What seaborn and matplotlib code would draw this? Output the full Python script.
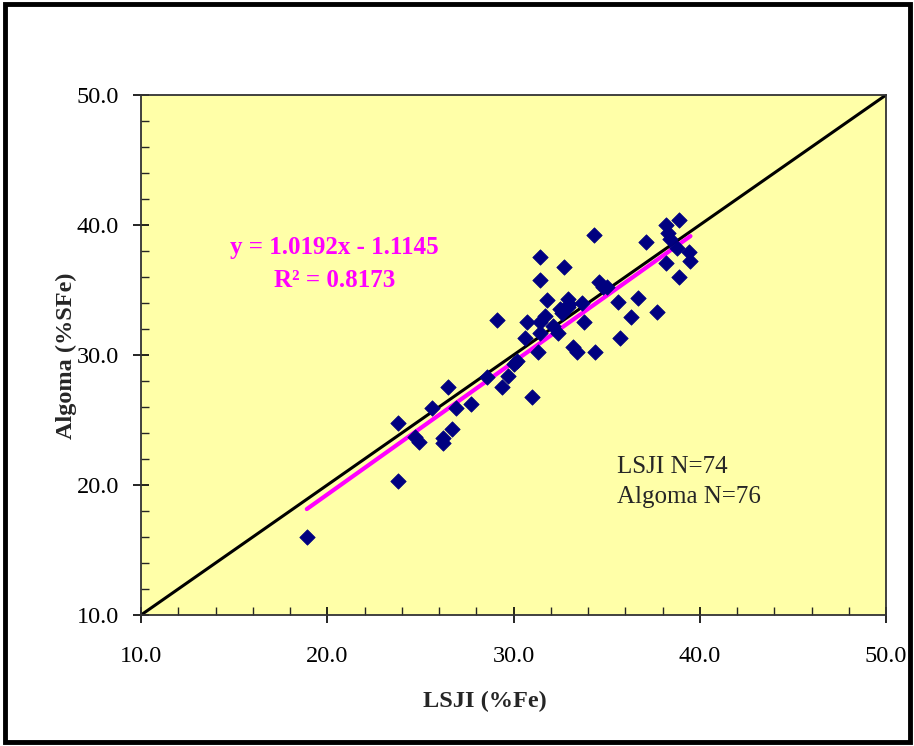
import pandas as pd
import seaborn as sns
import matplotlib.pyplot as plt
from matplotlib.patches import Rectangle
from matplotlib.ticker import MultipleLocator, FormatStrFormatter

# === DANE ===
lsji = [18.9, 23.8, 23.8, 24.7, 24.9, 25.6, 26.2, 26.2, 26.5, 26.7,
        26.9, 27.7, 29.1, 29.4, 29.7, 30.2, 30.7, 31.0, 31.3, 31.4,
        31.4, 31.4, 31.4, 31.8, 32.4, 32.5, 32.7, 32.9, 32.9, 33.2,
        33.4, 33.7, 33.8, 34.3, 34.4, 34.6, 34.8, 35.0, 35.6, 35.7,
        36.3, 36.7, 37.1, 37.7, 38.2, 38.3, 38.4, 38.2, 38.8, 38.9,
        38.9, 39.4, 39.5, 30.0, 28.6, 31.7, 32.1, 32.6, 30.6, 33.0]
algoma = [16.0, 20.3, 24.8, 23.7, 23.3, 25.9, 23.6, 23.2, 27.5, 24.3,
          25.9, 26.2, 32.7, 27.5, 28.4, 29.5, 32.5, 26.8, 30.2, 32.5,
          31.7, 37.5, 35.8, 34.2, 31.7, 33.5, 36.8, 34.3, 33.7, 30.6,
          30.2, 34.0, 32.5, 39.2, 30.2, 35.6, 35.2, 35.2, 34.1, 31.3,
          32.9, 34.4, 38.7, 33.3, 40.0, 39.4, 38.9, 37.1, 38.2, 40.4,
          36.0, 37.9, 37.2, 29.3, 28.3, 33.0, 32.2, 33.2, 31.3, 33.9]

SLOPE = 1.0192
INTERCEPT = -1.1145
R2 = 0.8173
AXIS_RANGE = [10.0, 50.0]

# === WYKRES ===
sns.set_style("ticks")
plt.rcParams['font.family'] = ['Liberation Serif', 'DejaVu Serif']

fig = plt.figure(figsize=(9.14, 7.46), dpi=100)
ax = fig.add_axes([0.1543, 0.1756, 0.8151, 0.6971])
ax.set_facecolor("#FFFFA8")

df = pd.DataFrame({"LSJI": lsji, "Algoma": algoma})

# linia 1:1
sns.lineplot(x=AXIS_RANGE, y=AXIS_RANGE, ax=ax, color="black", linewidth=2.2, zorder=2)

# linia trendu
x_fit = [min(lsji), max(lsji)]
y_fit = [SLOPE * v + INTERCEPT for v in x_fit]
sns.lineplot(x=x_fit, y=y_fit, ax=ax, color="#FF00FF", linewidth=3, zorder=3)

sns.scatterplot(data=df, x="LSJI", y="Algoma", ax=ax, marker="D", s=62,
                color="#000080", edgecolor="#000080", linewidth=0.5, zorder=4)

ax.set_xlim(AXIS_RANGE)
ax.set_ylim(AXIS_RANGE)
for a in (ax.xaxis, ax.yaxis):
    a.set_major_locator(MultipleLocator(10))
    a.set_minor_locator(MultipleLocator(2))
    a.set_major_formatter(FormatStrFormatter("%.1f"))
ax.tick_params(which="major", direction="inout", length=12, width=1.2, labelsize=17.5, colors="black")
ax.tick_params(which="minor", direction="in", length=6, width=1.0)
ax.tick_params(axis="x", which="major", pad=16)
ax.tick_params(axis="y", which="major", pad=10)
for sp in ax.spines.values():
    sp.set_color("#333333")
    sp.set_linewidth(1.3)

ax.set_xlabel("")
ax.set_ylabel("")
fig.text(485 / 914, 1 - 701 / 746, "LSJI (%Fe)", ha="center", va="center",
         fontsize=17.5, fontweight="bold")
fig.text(66 / 914, 1 - 356 / 746, "Algoma (%SFe)", ha="center", va="center",
         rotation=90, fontsize=17.5, fontweight="bold")

ax.text(20.4, 38.3, f"y = {SLOPE}x - {abs(INTERCEPT)}", color="#FF00FF",
        fontsize=18, fontweight="bold", ha="center", va="center")
ax.text(20.4, 35.7, f"R² = {R2}", color="#FF00FF",
        fontsize=18, fontweight="bold", ha="center", va="center")

ax.text(35.56, 21.4, "LSJI N=74", fontsize=18, ha="left", va="center")
ax.text(35.56, 19.1, "Algoma N=76", fontsize=18, ha="left", va="center")

# ramka wokół całego rysunku
fig.patches.append(Rectangle((0.006, 0.005), 0.99, 0.99, transform=fig.transFigure,
                             fill=False, edgecolor="black", linewidth=3.5))

plt.savefig("out.png", dpi=100)
plt.close()
